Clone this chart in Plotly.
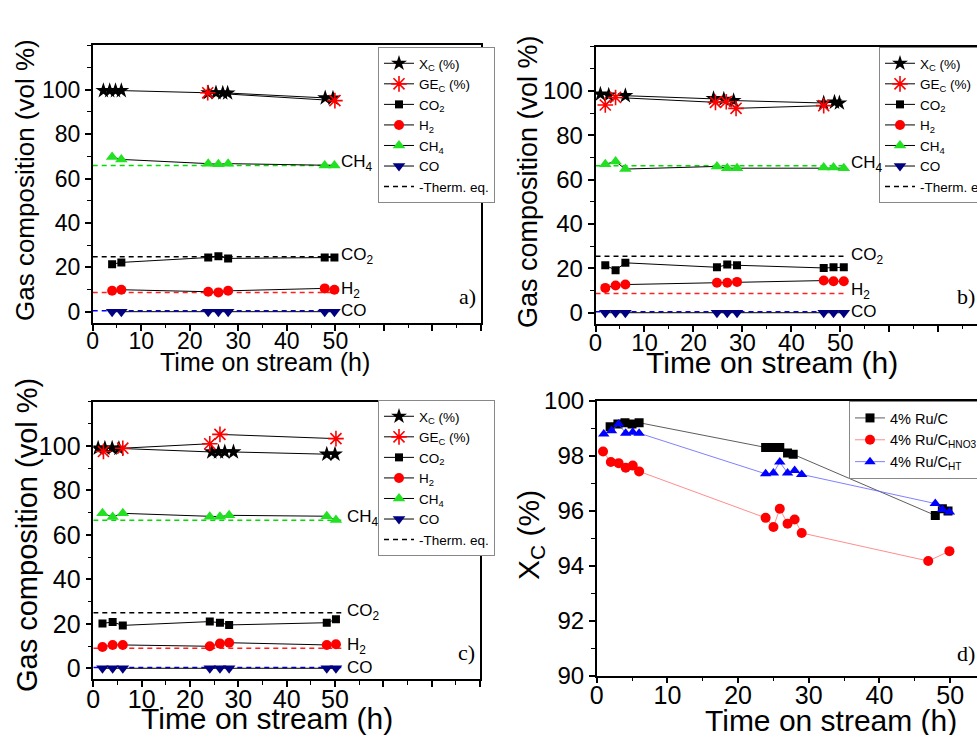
import plotly.graph_objects as go

# ---------------- data ----------------
# Panel a)
A_T_XC = [2.2, 3.5, 4.7, 5.9, 23.8, 25.4, 26.8, 27.8, 47.9, 49.5]
A_XC = [99.6, 99.6, 99.6, 99.6, 98.6, 98.6, 98.5, 98.5, 96.3, 96.2]
A_T_GE = [23.7, 49.9]
A_GE = [98.6, 95.1]
A_T = [4.0, 5.9, 23.8, 25.9, 27.9, 47.8, 49.8]
A_CO2 = [21.4, 22.2, 24.4, 25.0, 24.0, 24.4, 24.4]
A_H2 = [9.4, 9.9, 9.0, 8.7, 9.4, 10.5, 9.9]
A_CH4 = [69.7, 68.6, 66.7, 66.4, 66.7, 65.9, 65.9]
A_CO = [0, 0, 0, 0, 0, 0, 0]
A_EQ_T = [0, 50.5]
A_EQ = {"CO2": 24.7, "H2": 8.7, "CH4": 65.9, "CO": 0.45}

# Panel b)
B_T_XC = [1.0, 2.7, 6.1, 24.1, 26.2, 28.2, 46.6, 48.8, 49.8]
B_XC = [98.6, 98.2, 97.9, 96.6, 96.3, 95.7, 94.6, 95.0, 94.6]
B_T_GE = [2.0, 4.1, 24.5, 26.7, 28.7, 46.6]
B_GE = [93.7, 97.1, 94.9, 95.2, 92.2, 93.4]
B_T = [2.0, 4.1, 6.1, 24.8, 26.9, 28.9, 46.6, 48.6, 50.7]
B_CO2 = [21.4, 19.2, 22.5, 20.5, 21.7, 21.4, 20.2, 20.5, 20.5]
B_H2 = [11.2, 12.3, 12.7, 13.5, 13.5, 13.9, 14.5, 14.2, 14.2]
B_CH4 = [67.0, 68.2, 64.8, 66.0, 65.2, 65.2, 65.5, 65.5, 65.2]
B_CO = [0, 0, 0, 0, 0, 0, 0, 0, 0]
B_EQ_T = [0, 51.4]
B_EQ = {"CO2": 25.5, "H2": 8.7, "CH4": 66.3, "CO": 0.45}

# Panel c)
C_T_XC = [1.0, 2.4, 3.9, 5.3, 24.5, 25.9, 27.2, 29.0, 48.3, 50.0]
C_XC = [99.0, 99.0, 99.0, 98.9, 97.3, 97.3, 97.3, 97.3, 96.3, 96.3]
C_T_GE = [2.1, 6.1, 24.1, 26.2, 50.2]
C_GE = [97.5, 99.0, 101.0, 105.2, 103.3]
C_T = [1.9, 4.0, 6.1, 24.1, 26.2, 28.1, 48.3, 50.2]
C_CO2 = [20.2, 20.8, 19.3, 21.0, 20.5, 19.5, 20.5, 22.0]
C_H2 = [9.6, 10.5, 10.5, 9.9, 11.1, 11.5, 10.5, 10.8]
C_CH4 = [69.7, 68.1, 69.7, 68.2, 68.2, 68.8, 68.4, 66.7]
C_CO = [0, 0, 0, 0, 0, 0, 0, 0]
C_EQ_T = [0, 51.7]
C_EQ = {"CO2": 25.0, "H2": 9.0, "CH4": 66.6, "CO": 0.3}

# Panel d) carbon conversion
D_T_RUC = [1.9, 3.0, 4.0, 5.0, 6.0, 23.9, 25.0, 25.9, 27.0, 27.8, 47.9, 48.9, 49.7]
D_RUC = [99.05, 99.15, 99.2, 99.15, 99.2, 98.3, 98.3, 98.3, 98.1, 98.05, 95.83, 96.07, 95.99]
D_T_HNO3 = [0.9, 2.0, 3.1, 4.1, 5.1, 6.0, 23.9, 25.0, 25.9, 27.0, 28.0, 29.0, 46.9, 49.9]
D_HNO3 = [98.15, 97.77, 97.73, 97.56, 97.64, 97.43, 95.74, 95.41, 96.07, 95.53, 95.68, 95.19, 94.17, 94.53]
D_T_HT = [1.0, 2.1, 3.1, 4.1, 5.1, 6.0, 23.9, 25.0, 25.9, 27.0, 28.0, 29.0, 47.9, 48.9, 49.9]
D_HT = [98.79, 98.91, 99.15, 98.82, 98.85, 98.82, 97.34, 97.37, 97.77, 97.37, 97.46, 97.32, 96.26, 96.04, 95.95]

X_TICKS = [0, 10, 20, 30, 40, 50, 60, 70, 80]
X_TICKTEXT = ["0", "10", "20", "30", "40", "50", "", "", ""]
Y_TICKS = [0, 20, 40, 60, 80, 100]
D_Y_TICKS = [90, 92, 94, 96, 98, 100]
D_X_TICKS = [0, 10, 20, 30, 40, 50]

# ---------------- styling ----------------
W, H = 977, 735
FONT = "Liberation Sans, Arial, sans-serif"
SERIF = "Liberation Serif, Times New Roman, serif"
GREEN = "#22e022"
NAVY = "#000080"
EQ_COLORS = {"CO2": "black", "H2": "#ff2020", "CH4": "#00dd00", "CO": "#0000ff"}


def fx(p):
    return p / W


def fy(p):
    return 1 - p / H


fig = go.Figure()


def axis_names(n):
    return ("x" if n == 1 else f"x{n}"), ("y" if n == 1 else f"y{n}")


NONE_PT = [None]


def add_gas_panel(n, t_xc, xc, t_ge, ge, t, co2, h2, ch4, co, eq_t, eq, legend):
    xa, ya = axis_names(n)
    common = dict(xaxis=xa, yaxis=ya, legend=legend, mode="lines+markers")
    # thermodynamic equilibrium dashed lines
    for k in ["CO2", "H2", "CH4", "CO"]:
        fig.add_trace(go.Scatter(x=eq_t, y=[eq[k], eq[k]], xaxis=xa, yaxis=ya, mode="lines",
                                 line=dict(color=EQ_COLORS[k], width=1.5, dash="5px,4px"),
                                 showlegend=False, hoverinfo="skip"))
    fig.add_trace(go.Scatter(x=NONE_PT, y=NONE_PT, xaxis=xa, yaxis=ya, legend=legend,
                             mode="lines", name="-Therm. eq.", legendrank=7,
                             line=dict(color="black", width=1.5, dash="5px,4px")))
    fig.add_trace(go.Scatter(x=t, y=co, name="CO", legendrank=6,
                             marker=dict(symbol="triangle-down", size=11, color=NAVY),
                             line=dict(color="black", width=1), **common))
    fig.add_trace(go.Scatter(x=t, y=ch4, name="CH<sub>4</sub>", legendrank=5,
                             marker=dict(symbol="triangle-up", size=11, color=GREEN),
                             line=dict(color="black", width=1), **common))
    fig.add_trace(go.Scatter(x=t, y=h2, name="H<sub>2</sub>", legendrank=4,
                             marker=dict(symbol="circle", size=10, color="#ff0000"),
                             line=dict(color="black", width=1), **common))
    fig.add_trace(go.Scatter(x=t, y=co2, name="CO<sub>2</sub>", legendrank=3,
                             marker=dict(symbol="square", size=8, color="black"),
                             line=dict(color="black", width=1), **common))
    fig.add_trace(go.Scatter(x=t_xc, y=xc, name="X<sub>C</sub> (%)", legendrank=1,
                             marker=dict(symbol="star", size=12, color="black"),
                             line=dict(color="black", width=1), **common))
    fig.add_trace(go.Scatter(x=t_ge, y=ge, name="GE<sub>C</sub> (%)", legendrank=2,
                             marker=dict(symbol="asterisk-open", size=13, color="#ff0000",
                                         line=dict(color="#ff0000", width=1.6)),
                             line=dict(color="black", width=1), **common))
    # end labels
    for k, lab, dy in [("CH4", "CH<sub>4</sub>", 1.0), ("CO2", "CO<sub>2</sub>", 0.3),
                       ("H2", "H<sub>2</sub>", 1.0), ("CO", "CO", 0.2)]:
        fig.add_annotation(x=eq_t[1] + 0.3, y=eq[k] + dy, xref=xa, yref=ya, text=lab,
                           showarrow=False, xanchor="left", yanchor="middle",
                           font=dict(family=FONT, size=17, color="black"))


add_gas_panel(1, A_T_XC, A_XC, A_T_GE, A_GE, A_T, A_CO2, A_H2, A_CH4, A_CO, A_EQ_T, A_EQ, "legend")
add_gas_panel(2, B_T_XC, B_XC, B_T_GE, B_GE, B_T, B_CO2, B_H2, B_CH4, B_CO, B_EQ_T, B_EQ, "legend2")
add_gas_panel(3, C_T_XC, C_XC, C_T_GE, C_GE, C_T, C_CO2, C_H2, C_CH4, C_CO, C_EQ_T, C_EQ, "legend3")

# panel d
for tt, vv, nm, sym, col, lcol in [
    (D_T_RUC, D_RUC, "4% Ru/C", "square", "black", "#333333"),
    (D_T_HNO3, D_HNO3, "4% Ru/C<sub>HNO3</sub>", "circle", "#ff0000", "#ff7070"),
    (D_T_HT, D_HT, "4% Ru/C<sub>HT</sub>", "triangle-up", "#0000ff", "#6060ff"),
]:
    fig.add_trace(go.Scatter(x=tt, y=vv, xaxis="x4", yaxis="y4", legend="legend4", name=nm,
                             mode="lines+markers",
                             marker=dict(symbol=sym, size=10 if sym != "square" else 9, color=col),
                             line=dict(color=lcol, width=0.8)))


def ax_style(**kw):
    d = dict(showline=True, linecolor="black", linewidth=1.5, ticks="outside",
             ticklen=6, tickwidth=1.5, tickcolor="black", showgrid=False, zeroline=False,
             tickfont=dict(family=FONT, size=23, color="black"))
    d.update(kw)
    return d


# geometry in pixels
PA = dict(l=92.7, r=481, t=45.3, b=322.8)
PB = dict(l=595.5, r=977, t=46.7, b=323.8)
PC = dict(l=93.3, r=480, t=401.5, b=679.4)
PD = dict(l=596.7, r=977, t=400.7, b=675.7)

layout_axes = {}
for n, P, xr, fs, mir in [(1, PA, [0, 80], 23, True), (2, PB, [0, 77.9], 24, False),
                          (3, PC, [0, 80], 25, True)]:
    xk = "xaxis" if n == 1 else f"xaxis{n}"
    yk = "yaxis" if n == 1 else f"yaxis{n}"
    ya = "y" if n == 1 else f"y{n}"
    xa = "x" if n == 1 else f"x{n}"
    layout_axes[xk] = ax_style(domain=[fx(P["l"]), fx(P["r"])], range=xr, anchor=ya,
                               tickvals=X_TICKS, ticktext=X_TICKTEXT, mirror=True,
                               ticklabelstandoff=-9,
                               minor=dict(ticks="outside", dtick=5, tick0=0, ticklen=3.5,
                                          tickwidth=1.2, tickcolor="black"),
                               tickfont=dict(family=FONT, size=fs, color="black"))
    layout_axes[yk] = ax_style(domain=[fy(P["b"]), fy(P["t"])], range=[-5, 120], anchor=xa,
                               tickvals=Y_TICKS, mirror=mir,
                               minor=dict(ticks="outside", dtick=10, tick0=0, ticklen=3.5,
                                          tickwidth=1.2, tickcolor="black"),
                               tickfont=dict(family=FONT, size=fs, color="black"))

layout_axes["xaxis4"] = ax_style(domain=[fx(PD["l"]), fx(PD["r"])], range=[0, 53.8], anchor="y4",
                                 tickvals=D_X_TICKS, mirror=True, ticklabelstandoff=-9,
                                 minor=dict(ticks="outside", dtick=5, tick0=0, ticklen=3.5,
                                            tickwidth=1.2, tickcolor="black"),
                                 tickfont=dict(family=FONT, size=25, color="black"))
layout_axes["yaxis4"] = ax_style(domain=[fy(PD["b"]), fy(PD["t"])], range=[90, 100], anchor="x4",
                                 tickvals=D_Y_TICKS, mirror=False,
                                 minor=dict(ticks="outside", dtick=1, tick0=90, ticklen=3.5,
                                            tickwidth=1.2, tickcolor="black"),
                                 tickfont=dict(family=FONT, size=24, color="black"))

LEG = dict(bgcolor="white", bordercolor="#888888", borderwidth=1,
           font=dict(family=FONT, size=13.5, color="black"), xanchor="left", yanchor="top",
           tracegroupgap=0, itemsizing="trace")

fig.update_layout(
    width=W, height=H,
    margin=dict(l=0, r=0, t=0, b=0, autoexpand=False),
    paper_bgcolor="white", plot_bgcolor="white",
    showlegend=True,
    legend=dict(x=fx(378), y=fy(47), **LEG),
    legend2=dict(x=fx(879), y=fy(47), **LEG),
    legend3=dict(x=fx(378), y=fy(400), **LEG),
    legend4=dict(x=fx(849), y=fy(401), **{**LEG, "font": dict(family=FONT, size=14.5, color="black")}),
    **layout_axes,
)

# axis titles and panel letters
titles = [
    ("Gas composition (vol %)", 25, 180, 26, -90),
    ("Gas composition (vol %)", 528, 182, 27, -90),
    ("Gas composition (vol %)", 27, 535, 29, -90),
    ("X<sub>C</sub> (%)", 530, 535, 30, -90),
    ("Time on stream (h)", 265, 362, 25, 0),
    ("Time on stream (h)", 772, 362, 30, 0),
    ("Time on stream (h)", 267, 718, 30, 0),
    ("Time on stream (h)", 831, 720, 30, 0),
]
for txt, x, y, s, ang in titles:
    fig.add_annotation(x=fx(x), y=fy(y), xref="paper", yref="paper", text=txt, showarrow=False,
                       xanchor="center", yanchor="middle", textangle=ang,
                       font=dict(family=FONT, size=s, color="black"))

for txt, x, y in [("a)", 478, 297), ("b)", 977, 297), ("c)", 477, 652), ("d)", 977, 653)]:
    fig.add_annotation(x=fx(x), y=fy(y), xref="paper", yref="paper", text=txt, showarrow=False,
                       xanchor="right", yanchor="middle",
                       font=dict(family=SERIF, size=22, color="black"))

fig.write_html("out.html", config={"displayModeBar": False},
               post_script="document.body.style.margin='0px';document.body.style.overflow='hidden';")
